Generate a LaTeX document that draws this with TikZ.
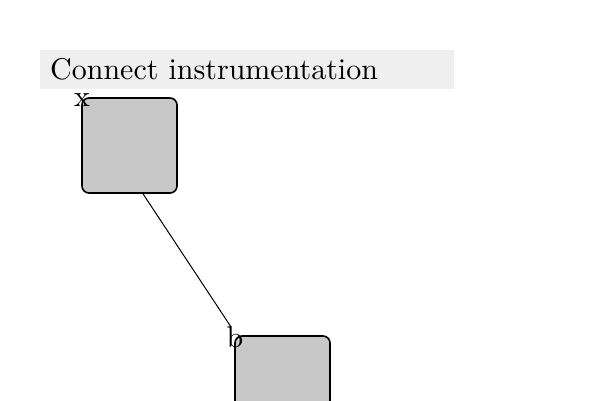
\documentclass[tikz,border=0pt]{standalone}
\usetikzlibrary{calc}
\definecolor{bargray}{HTML}{EFEFEF}
\definecolor{boxgray}{HTML}{C8C8C8}
\newcommand{\bigtxt}[1]{\scalebox{3}{\fontsize{10}{12}\selectfont #1}}
\begin{document}
\begin{tikzpicture}[x=1pt,y=-1pt,
  bigtext/.style={inner sep=0pt},
  tilebox/.style={draw=black, fill=boxgray, line width=1.6pt, rounded corners=7pt, minimum width=95pt, minimum height=95pt, inner sep=0pt},
  conn/.style={draw=black, line width=1pt}]
\useasboundingbox (0,0) rectangle (600,400);
\node[fill=bargray, minimum width=414pt, minimum height=39pt, inner sep=0pt, anchor=north west] (bar) at (40,50) {};
\node[bigtext, anchor=base west] (title) at (50,79) {\bigtxt{Connect instrumentation}};
\node[tilebox] (b1) at (129.5,145.5) {};
\node[tilebox] (b2) at (282.5,383.5) {};
\node[bigtext] (lx) at (82,100.5) {\bigtxt{x}};
\node[bigtext] (lb) at (235,337) {\bigtxt{b}};
\coordinate (e1) at ($(b1.south)+(13.5,0)$);
\coordinate (e2) at ($(b2.north west)+(-3,-8)$);
\draw[conn] (e1) -- (e2);
\end{tikzpicture}
\end{document}
